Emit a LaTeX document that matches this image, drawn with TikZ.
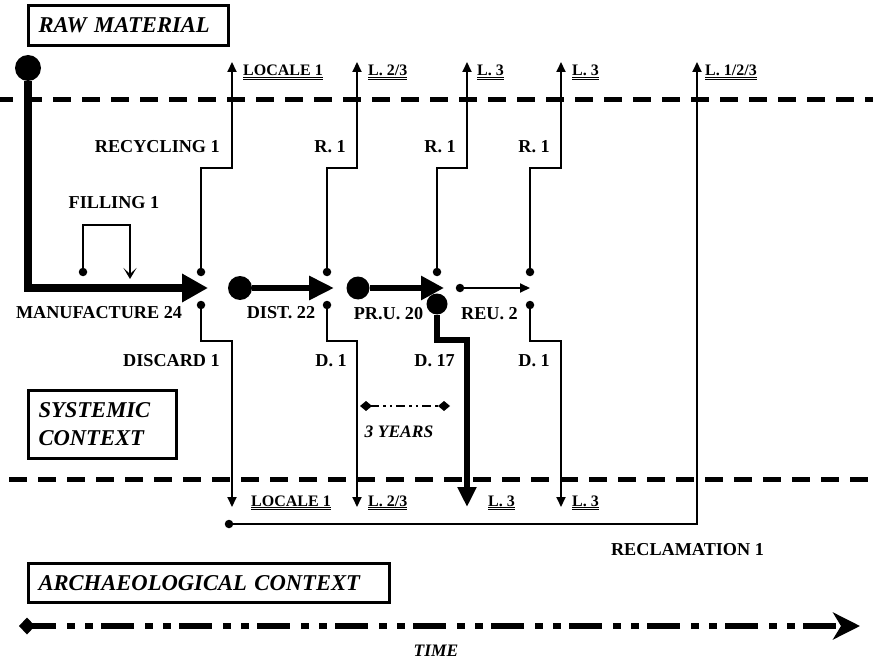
\documentclass[tikz,border=0pt]{standalone}
\usepackage{fontspec}
\setmainfont{Liberation Serif}
\usetikzlibrary{arrows.meta}
\newcommand\dulbl[1]{\setbox0\hbox{#1}\dp0=0pt\vtop{\copy0\kern1.2pt\hrule width\wd0 height 1pt\kern1.2pt\hrule width\wd0 height 1pt}}
\begin{document}
\begin{tikzpicture}[x=1pt,y=-1pt,
  every node/.style={inner sep=0pt},
  lbl/.style={font=\fontsize{18.2}{21}\selectfont\bfseries},
  ilbl/.style={font=\fontsize{17.5}{20}\selectfont\bfseries\itshape},
  sml/.style={font=\fontsize{16}{18}\selectfont\bfseries, anchor=base west},
  ttl/.style={draw, line width=3pt, font=\fontsize{22.6}{28}\selectfont\bfseries\itshape, inner xsep=10pt, inner ysep=3pt, align=left},
  sepline/.style={line width=5pt, dash pattern=on 18pt off 11pt},
  conn/.style={line width=2pt},
  thinhead/.style={-{Triangle[length=10pt,width=9pt]}},
  sdot/.style={circle, fill, minimum size=8.5pt},
  bdot/.style={circle, fill, minimum size=#1},
]
\useasboundingbox (0,0) rectangle (873,663);

% separators
\coordinate (sA) at (0,100); \coordinate (sB) at (873,100);
\draw[sepline, dash phase=5pt] (sA) -- (sB);
\coordinate (sC) at (0,479); \coordinate (sD) at (873,479);
\draw[sepline, dash phase=20pt] (sC) -- (sD);

% title boxes
\node[ttl, minimum width=200pt, minimum height=40pt, text width=180pt] (raw) at (128.5,25.5) {RAW MATERIAL};
\node[ttl, minimum width=148pt, minimum height=68pt, text width=128pt] (sys) at (102.5,424.5) {SYSTEMIC\\CONTEXT};
\node[ttl, minimum width=361pt, minimum height=39pt, text width=341pt] (arch) at (209,583) {ARCHAEOLOGICAL CONTEXT};

% manufacture flow
\node[bdot=26pt] (rm) at (28,68) {};
\coordinate (mc) at (28,288);
\coordinate (mt) at (208,288);
\draw[line width=8pt, -{Triangle[length=26pt,width=27pt]}] (rm) -- (mc) -- (mt);

% filling loop
\node[sdot] (fd) at (83,272) {};
\coordinate (fa) at (83,225); \coordinate (fb) at (130,225); \coordinate (ft) at (130,279);
\draw[conn, -{Stealth[length=11pt,width=13pt,inset=6pt]}] (fd) -- (fa) -- (fb) -- (ft);

% junction dots, recycling and discard branches
\foreach \n/\a/\b in {1/201/232, 2/327/357, 3/437/467, 4/530/561} {
  \node[sdot] (u\n) at (\a,272) {};
  \coordinate (ua\n) at (\a,168);
  \coordinate (ub\n) at (\b,168);
  \coordinate (ut\n) at (\b,62);
  \draw[conn, thinhead] (u\n) -- (ua\n) -- (ub\n) -- (ut\n);
}
\foreach \n/\a/\b in {1/201/232, 2/327/357, 4/530/561} {
  \node[sdot] (d\n) at (\a,305) {};
  \coordinate (da\n) at (\a,341);
  \coordinate (db\n) at (\b,341);
  \coordinate (dt\n) at (\b,507);
  \draw[conn, thinhead] (d\n) -- (da\n) -- (db\n) -- (dt\n);
}

% distribution
\node[bdot=24pt] (dist) at (240,288) {};
\coordinate (distt) at (334,288);
\draw[line width=6pt, -{Triangle[length=25pt,width=23pt]}] (dist) -- (distt);

% primary use
\node[bdot=23pt] (pru) at (358,288) {};
\coordinate (prut) at (444,288);
\draw[line width=6pt, -{Triangle[length=23pt,width=23pt]}] (pru) -- (prut);

% discard 17
\node[bdot=21pt] (d3) at (437,304) {};
\coordinate (da3) at (437,340); \coordinate (db3) at (467,340); \coordinate (dt3) at (467,507);
\draw[line width=6pt, -{Triangle[length=20pt,width=18pt]}] (d3) -- (da3) -- (db3) -- (dt3);

% reuse
\node[sdot] (reu) at (460,288) {};
\coordinate (reut) at (530,288);
\draw[conn, thinhead] (reu) -- (reut);

% reclamation
\node[sdot] (rc) at (229,524) {};
\coordinate (rca) at (697,524); \coordinate (rct) at (697,62);
\draw[conn, thinhead] (rc) -- (rca) -- (rct);

% flow labels
\node[lbl] (lfill) at (114,203) {FILLING 1};
\node[lbl] (lman) at (99,313) {MANUFACTURE 24};
\node[lbl] (ldist) at (281,313) {DIST. 22};
\node[lbl] (lpru) at (388.5,314) {PR.U. 20};
\node[lbl] (lreu) at (489.5,314) {REU. 2};
\node[lbl, anchor=east] (lr1) at (220,147) {RECYCLING 1};
\node[lbl, anchor=east] (lr2) at (346,147) {R. 1};
\node[lbl, anchor=east] (lr3) at (456,147) {R. 1};
\node[lbl, anchor=east] (lr4) at (550,147) {R. 1};
\node[lbl, anchor=east] (ld1) at (220,361) {DISCARD 1};
\node[lbl, anchor=east] (ld2) at (347,361) {D. 1};
\node[lbl, anchor=east] (ld3) at (455,361) {D. 17};
\node[lbl, anchor=east] (ld4) at (550,361) {D. 1};
\node[lbl] (lrec) at (687.5,550) {RECLAMATION 1};

% locale labels
\node[sml] (t1) at (243,76) {\dulbl{LOCALE 1}};
\node[sml] (t2) at (368,76) {\dulbl{L. 2/3}};
\node[sml] (t3) at (477,76) {\dulbl{L. 3}};
\node[sml] (t4) at (572,76) {\dulbl{L. 3}};
\node[sml] (t5) at (705,76) {\dulbl{L. 1/2/3}};
\node[sml] (b1) at (251,506) {\dulbl{LOCALE 1}};
\node[sml] (b2) at (368,506) {\dulbl{L. 2/3}};
\node[sml] (b3) at (488,506) {\dulbl{L. 3}};
\node[sml] (b4) at (572,506) {\dulbl{L. 3}};

% three years
\coordinate (ya) at (360,406); \coordinate (yb) at (450,406);
\draw[conn, dash pattern=on 9pt off 4pt on 2.5pt off 4pt on 2.5pt off 4pt,
  {Diamond[length=12pt,width=10pt]}-{Diamond[length=12pt,width=10pt]}] (ya) -- (yb);
\node[ilbl] (lyears) at (399,432) {3 YEARS};

% time axis
\coordinate (ta) at (19,626); \coordinate (tb) at (860,626);
\draw[line width=5.5pt, dash pattern=on 33pt off 11pt on 8pt off 10pt on 8pt off 8pt, dash phase=8pt,
  {Diamond[length=16pt,width=17pt]}-{Stealth[length=27pt,width=27pt,inset=8pt]}] (ta) -- (tb);
\node[ilbl] (ltime) at (436,651) {TIME};
\end{tikzpicture}
\end{document}
